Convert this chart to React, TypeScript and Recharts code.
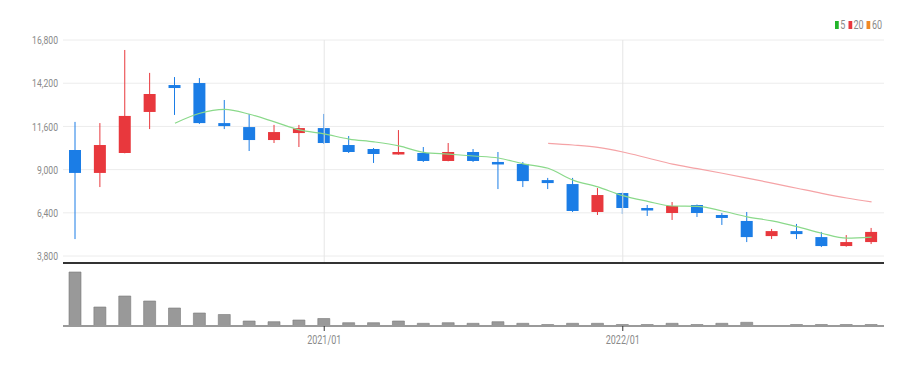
import React from "react";
import {
  ComposedChart, Bar, Line, XAxis, YAxis, CartesianGrid, ReferenceLine,
} from "recharts";

// monthly candles, 2020/03 .. 2022/11
const months = [
  "2020/03", "2020/04", "2020/05", "2020/06", "2020/07", "2020/08", "2020/09", "2020/10", "2020/11", "2020/12",
  "2021/01", "2021/02", "2021/03", "2021/04", "2021/05", "2021/06", "2021/07", "2021/08", "2021/09", "2021/10",
  "2021/11", "2021/12", "2022/01", "2022/02", "2022/03", "2022/04", "2022/05", "2022/06", "2022/07", "2022/08",
  "2022/09", "2022/10", "2022/11",
];
const opens = [
  10180, 8800, 10000, 12470, 14090, 14210, 11800, 11560, 10780, 11200,
  11500, 10480, 10240, 9940, 10000, 9520, 10060, 9460, 9340, 8370,
  8130, 6450, 7590, 6690, 6390, 6870, 6270, 5910, 5000, 5300,
  4940, 4400, 4640,
];
const highs = [
  11870, 11800, 16200, 14820, 14570, 14510, 13190, 12350, 11690, 11690,
  12350, 11020, 10300, 11380, 10360, 10600, 10240, 10060, 9460, 8500,
  8500, 7890, 7620, 6870, 7050, 6900, 6390, 6450, 5430, 5730,
  5250, 5060, 5490,
];
const lows = [
  4820, 7950, 9980, 11440, 12290, 11750, 11440, 10120, 10600, 10360,
  10550, 10000, 9400, 9900, 9460, 9500, 9460, 7830, 7950, 7830,
  6450, 6270, 6330, 6210, 5970, 6150, 5670, 4640, 4820, 4820,
  4340, 4360, 4520,
];
const closes = [
  8800, 10480, 12230, 13550, 13910, 11800, 11620, 10780, 11260, 11500,
  10600, 10060, 9940, 10060, 9520, 10060, 9520, 9340, 8310, 8190,
  6510, 7470, 6690, 6570, 6810, 6390, 6090, 4940, 5300, 5120,
  4400, 4640, 5250,
];
const ma5 = [
  null, null, null, null, 11790, 12390, 12620, 12330, 11870, 11390,
  11150, 10840, 10670, 10430, 10040, 9930, 9820, 9700, 9350, 9080,
  8370, 7960, 7430, 7090, 6810, 6790, 6510, 6160, 5910, 5570,
  5170, 4880, 4940,
];
const ma20 = [
  null, null, null, null, null, null, null, null, null, null,
  null, null, null, null, null, null, null, null, null, 10580,
  10480, 10340, 10060, 9700, 9330, 9060, 8780, 8490, 8190, 7880,
  7570, 7290, 7060,
];
const volumes = [
  5400, 1900, 3000, 2500, 1800, 1300, 1150, 500, 430, 600,
  750, 330, 330, 500, 270, 330, 270, 430, 270, 150,
  270, 270, 150, 150, 270, 150, 270, 370, 0, 150,
  150, 150, 150,
];
const priceTicks = [3800, 6400, 9000, 11600, 14200, 16800];
const yearTicks = ["2021/01", "2022/01"];

const UP = "#e8383d";
const DOWN = "#1b7de6";
const LABEL = "#8a8a8a";
const FONT = "Roboto, 'Liberation Sans', sans-serif";
const SQUEEZE = 0.75; // the original uses a condensed face

const priceData = months.map((m, i) => ({
  month: m,
  open: opens[i],
  high: highs[i],
  low: lows[i],
  close: closes[i],
  range: [lows[i], highs[i]],
  ma5: ma5[i],
  ma20: ma20[i],
}));
const volumeData = months.map((m, i) => ({ month: m, vol: volumes[i] }));

// wick + body, positioned inside the low..high range bar recharts gives us
function Candle(props: any) {
  const { x, y, width, height, payload } = props;
  if (x == null || payload == null) return null;
  const { open, close, high, low } = payload;
  const top0 = Math.min(y, y + height);
  const h = Math.abs(height);
  const px = (v: number) => top0 + ((high - v) / (high - low)) * h;
  const color = close >= open ? UP : DOWN;
  const bTop = px(Math.max(open, close));
  const bBot = px(Math.min(open, close));
  const cx = x + width / 2;
  return (
    <g>
      <line x1={cx} x2={cx} y1={top0} y2={top0 + h} stroke={color} strokeWidth={1} />
      <rect x={x} y={bTop} width={width} height={Math.max(bBot - bTop, 2.5)} fill={color} />
    </g>
  );
}

function PriceTick(props: any) {
  const { x, y, payload } = props;
  return (
    <text transform={`translate(${x},${y}) scale(${SQUEEZE},1)`} textAnchor="end" dy="0.36em" fill={LABEL} fontSize={11.5}>
      {Number(payload.value).toLocaleString("en-US")}
    </text>
  );
}

function MonthTick(props: any) {
  const { x, y, payload } = props;
  return (
    <text transform={`translate(${x},${y}) scale(${SQUEEZE},1)`} textAnchor="middle" dy="0.75em" fill={LABEL} fontSize={12}>
      {payload.value}
    </text>
  );
}

const legendItems = [
  { label: "5", color: "#22b52a" },
  { label: "20", color: "#e8383d" },
  { label: "60", color: "#f08a24" },
];

export default function App() {
  return (
    <div style={{ position: "absolute", left: 0, top: 0, width: 920, height: 366, background: "#fff", fontFamily: FONT }}>
      {/* volume panel (drawn first, sits under the price panel) */}
      <div style={{ position: "absolute", left: 0, top: 0 }}>
        <ComposedChart width={920} height={366} data={volumeData} margin={{ top: 266, right: 36, bottom: 0, left: 63 }}>
          <XAxis
            dataKey="month"
            ticks={yearTicks}
            interval={0}
            height={40}
            tickSize={5}
            tickMargin={4}
            tickLine={{ stroke: "#333" }}
            axisLine={{ stroke: "#9a9a9a", strokeWidth: 2 }}
            tick={<MonthTick />}
          />
          <YAxis hide width={0} domain={[0, 6000]} />
          <Bar dataKey="vol" barSize={12} fill="#999" stroke="#7a7a7a" strokeWidth={0.6} isAnimationActive={false} />
        </ComposedChart>
      </div>

      {/* price panel */}
      <div style={{ position: "absolute", left: 0, top: 0 }}>
        <ComposedChart width={920} height={270} data={priceData} margin={{ top: 40, right: 36, bottom: 6, left: 0 }}>
          <CartesianGrid vertical={false} stroke="#ececec" />
          <XAxis
            dataKey="month"
            height={1}
            tick={false}
            tickLine={false}
            axisLine={{ stroke: "#333", strokeWidth: 2 }}
          />
          <YAxis
            width={63}
            domain={[3380, 16800]}
            ticks={priceTicks}
            axisLine={false}
            tickLine={false}
            tickSize={3}
            tick={<PriceTick />}
          />
          {yearTicks.map((m) => (
            <ReferenceLine key={m} x={m} stroke="#e6e6e6" />
          ))}
          {/* MA lines sit under the candles */}
          <Line type="monotone" dataKey="ma5" stroke="#8ad98a" strokeWidth={1.2} dot={false} isAnimationActive={false} />
          <Line type="monotone" dataKey="ma20" stroke="#f5a3a6" strokeWidth={1.2} dot={false} isAnimationActive={false} />
          <Bar dataKey="range" barSize={12} shape={<Candle />} isAnimationActive={false} />
        </ComposedChart>
      </div>

      {/* legend */}
      <div
        style={{
          position: "absolute", left: 835, top: 18, display: "flex", alignItems: "center",
          fontSize: 12, color: LABEL, transform: `scale(${SQUEEZE},1)`, transformOrigin: "0 0",
        }}
      >
        {legendItems.map((it) => (
          <span key={it.label} style={{ display: "flex", alignItems: "center", marginRight: 4 }}>
            <span style={{ display: "inline-block", width: 5, height: 8, background: it.color, marginRight: 2 }} />
            {it.label}
          </span>
        ))}
      </div>
    </div>
  );
}
